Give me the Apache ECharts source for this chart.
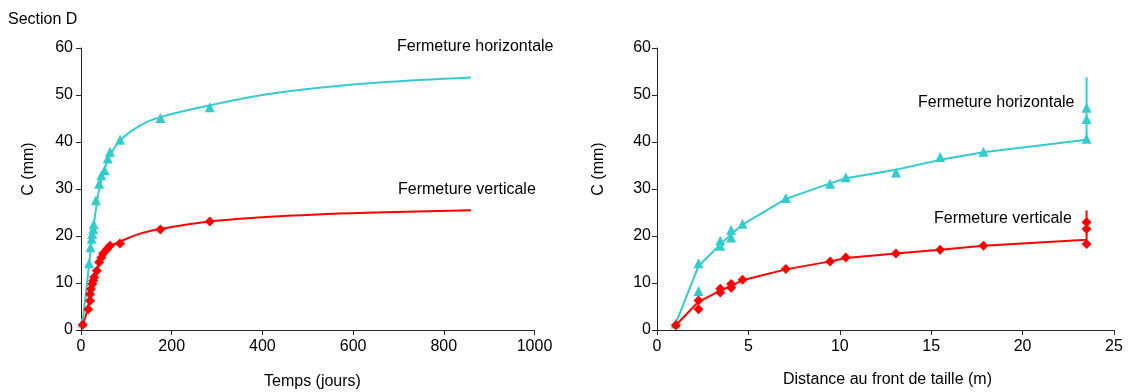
<!DOCTYPE html>
<html>
<head>
<meta charset="utf-8">
<script src="https://cdn.jsdelivr.net/npm/echarts@6/dist/echarts.min.js"></script>
<style>
html,body{margin:0;padding:0;background:#fff;}
#chart{width:1129px;height:392px;}
</style>
</head>
<body>
<div id="chart"></div>
<script>
// Left chart: C (mm) vs time (days)
const leftHorizPoints = [[3,1.6],[18,14.2],[21,17.6],[23.5,19.4],[25,20.5],[27,21.5],[28,22.5],[33,27.6],[40,31.1],[45,32.9],[52,34],[59,36.5],[64,37.9],[86,40.5],[175,45.1],[284,47.4]];
const leftVertPoints = [[4,1.1],[16,4.4],[20,6.2],[20,7.6],[22,8.7],[25,9.8],[27,10.5],[29,11.2],[35,12.6],[40,14.4],[45,15.4],[49,16.3],[57,17.2],[64,17.9],[86,18.4],[175,21.4],[284,23.1]];
const leftHorizCurve = [[3,1.6],[10,7],[18,14.2],[25,20],[35,27],[45,32],[60,36.3],[86,40.3],[130,43.5],[175,45.3],[284,47.8],[400,50],[520,51.5],[650,52.6],[860,53.7]];
const leftVertCurve = [[4,1.1],[12,3.5],[20,7],[30,11],[40,14],[50,16],[65,17.8],[86,18.8],[130,20.5],[175,21.5],[284,23.1],[400,24],[520,24.6],[650,25],[860,25.5]];

// Right chart: C (mm) vs distance to face (m)
const rightHorizPoints = [[1.03,1.4],[2.27,14.2],[2.27,8.3],[3.46,19.0],[3.46,17.9],[4.06,21.3],[4.06,19.7],[4.68,22.6],[7.05,28.1],[9.47,31.1],[10.33,32.5],[13.07,33.5],[15.49,36.8],[17.86,37.9],[23.5,47.3],[23.5,44.9],[23.5,40.7]];
const rightVertPoints = [[1.03,1.0],[2.27,6.3],[2.27,4.4],[3.46,8.8],[3.46,8.0],[4.06,9.8],[4.06,9.0],[4.68,10.7],[7.05,13.0],[9.47,14.6],[10.33,15.4],[13.07,16.3],[15.49,17.1],[17.86,17.9],[23.5,22.9],[23.5,21.5],[23.5,18.3]];
const rightHorizLine = [[1.03,1.4],[2.27,13.6],[3.46,18.2],[4.06,20.4],[4.68,22.4],[7.05,27.9],[9.47,31.2],[10.33,32.3],[13.07,34.1],[15.49,36.2],[17.86,37.8],[23.5,40.5],[23.5,53.8]];
const rightVertLine = [[1.03,1.0],[2.27,6.0],[3.46,8.4],[4.06,9.4],[4.68,10.6],[7.05,12.9],[9.47,14.6],[10.33,15.3],[13.07,16.3],[15.49,17.1],[17.86,17.9],[23.5,19.2],[23.5,25.4]];

const cyan = '#33CCCC';
const red = '#FF0000';
const font = 'Liberation Sans, Arial, sans-serif';
const axisCol = '#262626';

function xAx(gi, max, interval, margin){
  return {type:'value', gridIndex:gi, min:0, max:max, interval:interval,
    splitLine:{show:false},
    axisLine:{show:true, lineStyle:{color:axisCol, width:1}},
    axisTick:{show:true, inside:false, length:5, lineStyle:{color:axisCol}},
    axisLabel:{color:'#000', fontFamily:font, fontSize:16, margin:margin, formatter:function(v){return String(v);}}};
}
function yAx(gi, margin){
  return {type:'value', gridIndex:gi, min:0, max:60, interval:10,
    splitLine:{show:false},
    axisLine:{show:true, lineStyle:{color:axisCol, width:1}},
    axisTick:{show:true, inside:false, length:5, lineStyle:{color:axisCol}},
    axisLabel:{color:'#000', fontFamily:font, fontSize:16, margin:margin, formatter:function(v){return String(v);}}};
}
function txt(x, y, s){
  return {type:'text', x:x, y:y, style:{text:s, fill:'#000', font:'16px ' + font, textVerticalAlign:'middle', textAlign:'left'}};
}

const chart = echarts.init(document.getElementById('chart'), null, {renderer:'canvas'});
chart.setOption({
  animation:false,
  backgroundColor:'#fff',
  grid:[
    {left:81, top:48, width:453.5, height:282},
    {left:657, top:48, width:457, height:282}
  ],
  xAxis:[xAx(0,1000,200,9), xAx(1,25,5,9)],
  yAxis:[yAx(0,8), yAx(1,6)],
  series:[
    {type:'line', xAxisIndex:0, yAxisIndex:0, data:leftHorizCurve, smooth:0.4, showSymbol:false, lineStyle:{color:cyan, width:2}, z:2},
    {type:'line', xAxisIndex:0, yAxisIndex:0, data:leftVertCurve, smooth:0.4, showSymbol:false, lineStyle:{color:red, width:2}, z:2},
    {type:'scatter', xAxisIndex:0, yAxisIndex:0, data:leftHorizPoints, symbol:'triangle', symbolSize:10, itemStyle:{color:cyan, opacity:1}, z:3},
    {type:'scatter', xAxisIndex:0, yAxisIndex:0, data:leftVertPoints, symbol:'diamond', symbolSize:10, itemStyle:{color:red, opacity:1}, z:3},
    {type:'line', xAxisIndex:1, yAxisIndex:1, data:rightHorizLine, showSymbol:false, lineStyle:{color:cyan, width:2}, z:2},
    {type:'line', xAxisIndex:1, yAxisIndex:1, data:rightVertLine, showSymbol:false, lineStyle:{color:red, width:2}, z:2},
    {type:'scatter', xAxisIndex:1, yAxisIndex:1, data:rightHorizPoints, symbol:'triangle', symbolSize:10, itemStyle:{color:cyan, opacity:1}, z:3},
    {type:'scatter', xAxisIndex:1, yAxisIndex:1, data:rightVertPoints, symbol:'diamond', symbolSize:10, itemStyle:{color:red, opacity:1}, z:3}
  ],
  graphic:[
    txt(8, 20, 'Section D'),
    txt(397, 47, 'Fermeture horizontale'),
    txt(398, 190, 'Fermeture verticale'),
    txt(918, 103, 'Fermeture horizontale'),
    txt(934, 219, 'Fermeture verticale'),
    txt(264, 382, 'Temps (jours)'),
    txt(783, 380, 'Distance au front de taille (m)'),
    {type:'text', x:29, y:169, rotation:Math.PI/2, style:{text:'C (mm)', fill:'#000', font:'16px ' + font, textVerticalAlign:'middle', textAlign:'center'}},
    {type:'text', x:599, y:169, rotation:Math.PI/2, style:{text:'C (mm)', fill:'#000', font:'16px ' + font, textVerticalAlign:'middle', textAlign:'center'}}
  ]
});
</script>
</body>
</html>
